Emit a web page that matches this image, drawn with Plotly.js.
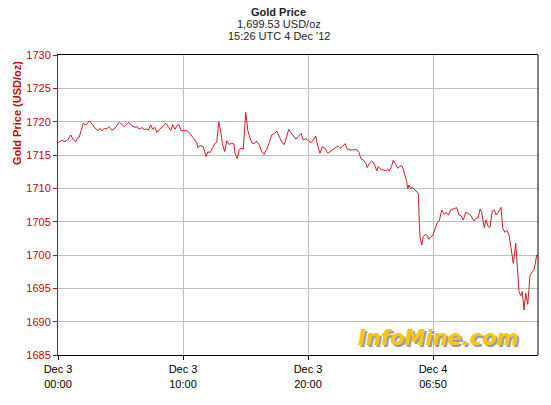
<!DOCTYPE html>
<html>
<head>
<meta charset="utf-8">
<script src="https://cdn.plot.ly/plotly-3.0.1.min.js"></script>
<style>
html,body{margin:0;padding:0;background:#fff;}
#chart{width:551px;height:405px;}
</style>
</head>
<body>
<div id="chart"></div>
<script>
// Position along the time axis (hour-like units; ticks at 0,10,20,30)
const hours = [
0.02,0.30,0.56,0.78,1.02,1.22,1.42,1.58,1.70,2.02,2.24,2.50,2.74,3.02,3.22,3.36,3.50,3.70,3.90,4.08,
4.30,4.50,4.70,4.90,5.10,5.30,5.50,5.68,5.90,6.16,6.34,6.48,6.70,6.90,7.10,7.22,7.42,7.58,7.76,7.90,
8.02,8.22,8.42,8.64,8.82,9.02,9.18,9.36,9.50,9.68,9.84,10.02,10.30,10.50,10.70,10.90,11.10,11.18,11.36,11.62,
11.76,11.84,12.00,12.16,12.38,12.56,12.70,12.86,13.04,13.14,13.34,13.50,13.66,13.90,14.08,14.16,14.34,14.50,14.64,14.82,
15.02,15.18,15.36,15.54,15.70,15.90,16.08,16.30,16.48,16.70,16.88,17.10,17.30,17.52,17.68,17.90,18.10,18.30,18.46,18.64,
18.82,19.02,19.22,19.44,19.62,19.84,20.02,20.24,20.42,20.62,20.78,20.96,21.14,21.36,21.58,21.84,22.10,22.38,22.56,22.78,
22.96,23.14,23.36,23.62,23.90,24.08,24.22,24.42,24.64,24.74,24.90,25.10,25.22,25.36,25.50,25.62,25.82,26.02,26.22,26.38,
26.50,26.70,26.82,27.02,27.18,27.30,27.50,27.62,27.76,27.90,27.98,28.08,28.22,28.32,28.48,28.70,28.82,28.90,28.96,29.10,
29.22,29.38,29.54,29.66,29.82,29.98,30.16,30.34,30.50,30.70,30.90,31.04,31.22,31.42,31.62,31.90,32.08,32.24,32.42,32.62,
32.82,33.04,33.28,33.42,33.62,33.76,33.90,34.10,34.24,34.42,34.56,34.74,34.90,35.06,35.22,35.44,35.58,35.76,35.92,36.08,
36.24,36.42,36.62,36.78,36.88,37.02,37.14,37.28,37.42,37.58,37.76,37.94,38.10,38.30,38.40
];
const price = [
1716.85,1717.2,1717.0,1717.3,1718.0,1717.3,1717.0,1717.65,1717.7,1719.75,1719.5,1720.1,1719.6,1718.9,1718.65,1719.0,1718.6,1719.0,1718.9,1719.25,
1718.75,1718.9,1719.4,1719.9,1719.6,1719.25,1719.6,1719.9,1719.4,1719.15,1719.25,1718.9,1719.1,1718.85,1718.9,1718.75,1719.5,1718.85,1719.15,1718.35,
1718.65,1719.0,1719.45,1719.75,1719.25,1718.65,1719.55,1718.85,1719.35,1719.55,1718.65,1718.65,1718.65,1718.35,1717.85,1717.35,1716.85,1716.1,1716.4,1716.25,
1715.5,1714.75,1715.5,1715.35,1716.15,1716.75,1716.9,1720.0,1718.25,1716.75,1715.5,1717.15,1716.6,1716.75,1716.65,1715.25,1714.45,1715.85,1716.0,1715.85,
1721.4,1718.75,1717.5,1716.75,1716.75,1717.05,1716.6,1715.5,1715.1,1715.85,1716.75,1718.0,1718.25,1718.55,1717.85,1716.95,1716.55,1717.75,1718.85,1718.35,
1717.95,1717.4,1717.75,1718.25,1717.25,1717.45,1717.15,1716.85,1717.25,1717.85,1716.35,1715.25,1716.25,1716.0,1715.25,1715.65,1716.0,1716.35,1716.0,1716.3,
1716.7,1715.9,1715.75,1715.8,1715.8,1715.4,1714.5,1714.25,1713.75,1713.1,1713.75,1714.1,1713.9,1713.4,1712.6,1713.25,1712.9,1712.75,1712.6,1712.9,
1712.6,1713.4,1714.2,1713.6,1713.0,1713.25,1713.4,1712.9,1712.0,1711.0,1709.9,1710.5,1709.9,1710.2,1709.9,1709.5,1709.25,1705.0,1702.75,1701.5,
1702.75,1703.1,1702.9,1702.35,1702.75,1702.9,1704.1,1704.9,1705.1,1706.75,1706.1,1706.4,1706.0,1706.75,1706.9,1707.1,1706.0,1705.9,1705.25,1706.4,
1706.25,1705.9,1705.1,1705.5,1705.6,1706.9,1706.4,1704.1,1705.25,1704.25,1704.15,1706.6,1706.75,1706.0,1706.4,1707.15,1704.0,1703.4,1703.7,1703.0,
1701.1,1698.75,1701.75,1696.5,1694.5,1693.9,1694.5,1691.75,1694.25,1692.6,1696.9,1697.5,1697.9,1700.0,1699.9
];
const xTickVals = [0, 10, 20, 30];
const xTickText = ['Dec 3<br>00:00', 'Dec 3<br>10:00', 'Dec 3<br>20:00', 'Dec 4<br>06:50'];
const yTickVals = [1685,1690,1695,1700,1705,1710,1715,1720,1725,1730];
const titleLines = ['<b>Gold Price</b>', '1,699.53 USD/oz', "15:26 UTC 4 Dec '12"];
const yTitle = '<b>Gold Price (USD/oz)</b>';
const watermark = 'InfoMine.com';

const RED = '#cc0000';
const FONT = 'Liberation Sans, Arial, sans-serif';

const trace = {
  x: hours, y: price, type: 'scatter', mode: 'lines',
  line: {color: '#d41c24', width: 1}, hoverinfo: 'skip'
};

const layout = {
  width: 551, height: 405,
  margin: {l: 58, r: 13, t: 55, b: 50, pad: 0},
  paper_bgcolor: '#ffffff', plot_bgcolor: '#ffffff',
  showlegend: false,
  font: {family: FONT, size: 11, color: '#000'},
  xaxis: {
    type: 'linear', range: [0, 38.4], tickvals: xTickVals, ticktext: xTickText,
    showgrid: true, gridcolor: '#c0c0c0', gridwidth: 1,
    showline: true, linecolor: '#000', linewidth: 1, mirror: true,
    ticks: 'outside', ticklen: 4, tickcolor: '#000',
    tickfont: {family: FONT, size: 11, color: '#000'},
    zeroline: false, fixedrange: true
  },
  yaxis: {
    range: [1685, 1730], tickvals: yTickVals,
    showgrid: true, gridcolor: '#c0c0c0', gridwidth: 1,
    showline: true, linecolor: RED, linewidth: 1,
    ticks: 'outside', ticklen: 4, tickcolor: RED,
    tickfont: {family: FONT, size: 11, color: RED},
    zeroline: false, fixedrange: true
  },
  shapes: [
    {type: 'line', xref: 'paper', yref: 'paper', x0: 1, x1: 1, y0: 0, y1: 1,
     line: {color: '#000', width: 1}}
  ],
  annotations: [
    {xref: 'paper', yref: 'paper', x: 0.4604, y: 1.1433, text: titleLines[0], showarrow: false,
     xanchor: 'center', yanchor: 'middle', font: {family: FONT, size: 11, color: '#222'}},
    {xref: 'paper', yref: 'paper', x: 0.4604, y: 1.1017, text: titleLines[1], showarrow: false,
     xanchor: 'center', yanchor: 'middle', font: {family: FONT, size: 11, color: '#222'}},
    {xref: 'paper', yref: 'paper', x: 0.4604, y: 1.0633, text: titleLines[2], showarrow: false,
     xanchor: 'center', yanchor: 'middle', font: {family: FONT, size: 11, color: '#222'}},
    {xref: 'paper', yref: 'paper', x: -0.0854, y: 0.8067, text: yTitle, showarrow: false,
     textangle: -90, xanchor: 'center', yanchor: 'middle', font: {family: FONT, size: 11, color: RED}},
    {xref: 'paper', yref: 'paper', x: 0.7915, y: 0.058, text: watermark, showarrow: false,
     xanchor: 'center', yanchor: 'middle',
     font: {family: 'DejaVu Sans, sans-serif', size: 21, color: '#f6c412', weight: 'bold', style: 'italic',
            shadow: '2px 2px 0px #9a9a9a'}}
  ]
};

Plotly.newPlot('chart', [trace], layout, {displayModeBar: false, staticPlot: true});
</script>
</body>
</html>
